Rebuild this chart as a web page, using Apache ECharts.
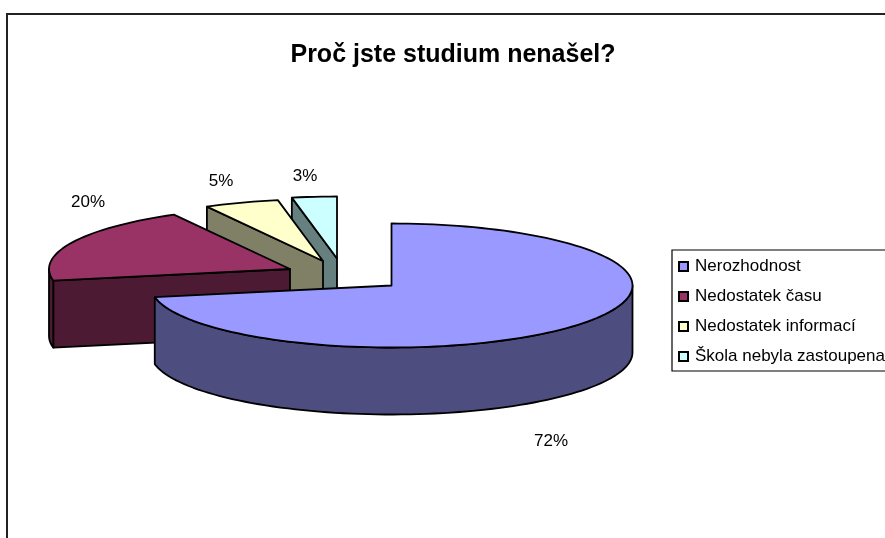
<!DOCTYPE html>
<html><head><meta charset="utf-8">
<style>html,body{margin:0;padding:0;background:#fff}#c{width:885px;height:538px}</style>
<script src="https://cdn.jsdelivr.net/npm/echarts@6/dist/echarts.min.js"></script>
</head><body><div id="c"></div>
<script>
const titleText = 'Proč jste studium nenašel?';
const categories = ['Nerozhodnost', 'Nedostatek času', 'Nedostatek informací', 'Škola nebyla zastoupena'];
const values = [72, 20, 5, 3];
const labels = ['72%', '20%', '5%', '3%'];
const topColors = ['#9999ff', '#993366', '#ffffcc', '#ccffff'];
const sideColors = ['#4d4d80', '#4d1a33', '#808066', '#668080'];

// layout of the tilted pie
const RX = 241, RY = 62, DEPTH = 67;
const centers = [[391.5, 285.5], [290, 269], [323, 261], [337, 258.5]];
const labelPos = [[551, 441], [88, 202], [221, 181], [305, 176]];
const FONT = '"Liberation Sans", Arial, sans-serif';
const total = values.reduce((a, b) => a + b, 0);

function rim(c, deg) {
  const t = deg * Math.PI / 180;
  return [c[0] + RX * Math.sin(t), c[1] - RY * Math.cos(t)];
}
function arc(c, a, b) {
  const pts = [], n = Math.max(2, Math.ceil(Math.abs(b - a) / 2));
  for (let i = 0; i <= n; i++) pts.push(rim(c, a + (b - a) * i / n));
  return pts;
}
const down = p => [p[0], p[1] + DEPTH];
function poly(points, fill, z2) {
  return {
    type: 'polygon', z2,
    shape: { points },
    style: { fill, stroke: '#000', lineWidth: 1.8, lineJoin: 'round' }
  };
}
function makeRender(idx) {
  return function (params, api) {
    let before = 0;
    for (let i = 0; i < idx; i++) before += values[i];
    const a = before / total * 360;
    const b = (before + api.value(0)) / total * 360;
    const c = centers[idx];
    const children = [];
    const sinA = Math.sin(a * Math.PI / 180), sinB = Math.sin(b * Math.PI / 180);
    if (sinA < -1e-6) {
      const p = rim(c, a);
      children.push(poly([c, p, down(p), down(c)], sideColors[idx], 1));
    }
    if (sinB > 1e-6) {
      const p = rim(c, b);
      children.push(poly([c, p, down(p), down(c)], sideColors[idx], 1));
    }
    // visible part of the outer wall lies between 90 and 270 degrees
    const lo = Math.max(a, 90), hi = Math.min(b, 270);
    if (hi > lo) {
      const r = arc(c, lo, hi);
      children.push(poly(r.concat(r.map(down).reverse()), sideColors[idx], 2));
    }
    children.push(poly([c].concat(arc(c, a, b)), topColors[idx], 3));
    return { type: 'group', children };
  };
}

const series = categories.map((name, i) => ({
  type: 'custom',
  name,
  coordinateSystem: 'none',
  z: 10 - i,
  silent: true,
  animation: false,
  itemStyle: { color: topColors[i], borderColor: '#000', borderWidth: 1.5 },
  data: [[values[i]]],
  renderItem: makeRender(i),
  encode: { value: 0 }
}));

const chart = echarts.init(document.getElementById('c'), null, { renderer: 'canvas' });
chart.setOption({
  animation: false,
  backgroundColor: '#ffffff',
  title: {
    text: titleText,
    left: 448, top: 38, textAlign: 'center',
    textStyle: { fontFamily: FONT, fontSize: 25, fontWeight: 'bold', color: '#000' }
  },
  legend: {
    orient: 'vertical',
    left: 672, top: 250,
    padding: [8, 60, 6, 6],
    itemWidth: 9, itemHeight: 9, itemGap: 13,
    icon: 'rect',
    backgroundColor: '#fff',
    borderColor: '#000', borderWidth: 1.2,
    textStyle: { fontFamily: FONT, fontSize: 17, color: '#000', padding: [0, 0, 0, 2] },
    data: categories
  },
  graphic: [
    { type: 'rect', z: 0, silent: true, shape: { x: 7, y: 14, width: 1000, height: 1000 },
      style: { fill: 'none', stroke: '#222', lineWidth: 2 } }
  ].concat(labels.map((t, i) => ({
    type: 'text', z: 20, silent: true, x: labelPos[i][0], y: labelPos[i][1],
    style: { text: t, fontFamily: FONT, fontSize: 17, fill: '#000', align: 'center', verticalAlign: 'middle' }
  }))),
  series
});
</script></body></html>
